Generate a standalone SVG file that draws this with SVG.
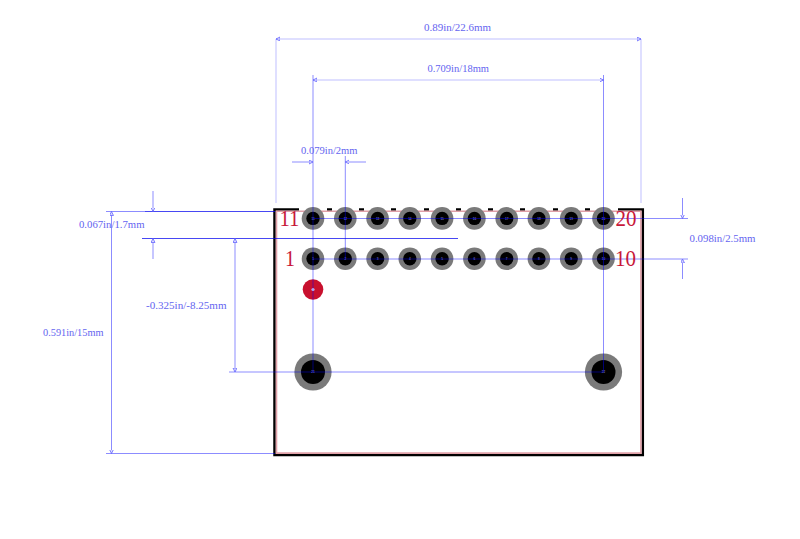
<svg xmlns="http://www.w3.org/2000/svg" width="800" height="539" viewBox="0 0 800 539">
<style>
.bg{fill:#fff}
.ol{stroke:#000;stroke-width:2.5;fill:none}
.pk{stroke:#e0a0a8;stroke-width:1.6;fill:none}
.o{fill:#7a7a7a}
.i{fill:#000}
.d{stroke:#0000ff;stroke-opacity:.45;stroke-width:1;fill:none}
.s{stroke:#0000ee;stroke-opacity:.72;stroke-width:1;fill:none}
.l{stroke:#0000ff;stroke-opacity:.25;stroke-width:1;fill:none}
.dt{font-family:"Liberation Serif",serif;font-size:10px;fill:#6464f0}
.pn{font-family:"Liberation Serif",serif;font-size:23px;fill:#c8183a}
.pt{font-family:"Liberation Sans",sans-serif;font-size:3px;fill:#a0a0ff;text-anchor:middle}
.red{fill:#c8102e}
</style>
<defs>
<marker id="a" markerWidth="5" markerHeight="5" refX="4" refY="2" orient="auto-start-reverse" markerUnits="userSpaceOnUse"><path d="M0 0L4 2L0 4Z" fill="#d8d8ff" stroke="#6a6aff" stroke-width="0.8"/></marker>
</defs>
<rect class="bg" width="800" height="539"/>
<g id="outline">
<path class="ol" d="M299 209.500H274.500V455H642.800V209.500H618M327 209.500H332M359 209.500H364M391 209.500H396M424 209.500H429M456 209.500H461M488 209.500H493M520 209.500H525M553 209.500H558M585 209.500H590"/>
<path class="pk" d="M276.500 211.300H640.900V453.100H276.500Z"/>
</g>
<g id="pads">
<g id="pad11"><circle class="o" cx="313" cy="218.400" r="11.300"/><circle class="i" cx="313" cy="218.400" r="6.700"/><text class="pt" x="313" y="219.500">11</text></g>
<g id="pad12"><circle class="o" cx="345.300" cy="218.400" r="11.300"/><circle class="i" cx="345.300" cy="218.400" r="6.700"/><text class="pt" x="345.300" y="219.500">12</text></g>
<g id="pad13"><circle class="o" cx="377.600" cy="218.400" r="11.300"/><circle class="i" cx="377.600" cy="218.400" r="6.700"/><text class="pt" x="377.600" y="219.500">13</text></g>
<g id="pad14"><circle class="o" cx="409.800" cy="218.400" r="11.300"/><circle class="i" cx="409.800" cy="218.400" r="6.700"/><text class="pt" x="409.800" y="219.500">14</text></g>
<g id="pad15"><circle class="o" cx="442.100" cy="218.400" r="11.300"/><circle class="i" cx="442.100" cy="218.400" r="6.700"/><text class="pt" x="442.100" y="219.500">15</text></g>
<g id="pad16"><circle class="o" cx="474.400" cy="218.400" r="11.300"/><circle class="i" cx="474.400" cy="218.400" r="6.700"/><text class="pt" x="474.400" y="219.500">16</text></g>
<g id="pad17"><circle class="o" cx="506.700" cy="218.400" r="11.300"/><circle class="i" cx="506.700" cy="218.400" r="6.700"/><text class="pt" x="506.700" y="219.500">17</text></g>
<g id="pad18"><circle class="o" cx="538.900" cy="218.400" r="11.300"/><circle class="i" cx="538.900" cy="218.400" r="6.700"/><text class="pt" x="538.900" y="219.500">18</text></g>
<g id="pad19"><circle class="o" cx="571.200" cy="218.400" r="11.300"/><circle class="i" cx="571.200" cy="218.400" r="6.700"/><text class="pt" x="571.200" y="219.500">19</text></g>
<g id="pad20"><circle class="o" cx="603.500" cy="218.400" r="11.300"/><circle class="i" cx="603.500" cy="218.400" r="6.700"/><text class="pt" x="603.500" y="219.500">20</text></g>
<g id="pad1"><circle class="o" cx="313" cy="258.800" r="11.300"/><circle class="i" cx="313" cy="258.800" r="6.700"/><text class="pt" x="313" y="260">1</text></g>
<g id="pad2"><circle class="o" cx="345.300" cy="258.800" r="11.300"/><circle class="i" cx="345.300" cy="258.800" r="6.700"/><text class="pt" x="345.300" y="260">2</text></g>
<g id="pad3"><circle class="o" cx="377.600" cy="258.800" r="11.300"/><circle class="i" cx="377.600" cy="258.800" r="6.700"/><text class="pt" x="377.600" y="260">3</text></g>
<g id="pad4"><circle class="o" cx="409.800" cy="258.800" r="11.300"/><circle class="i" cx="409.800" cy="258.800" r="6.700"/><text class="pt" x="409.800" y="260">4</text></g>
<g id="pad5"><circle class="o" cx="442.100" cy="258.800" r="11.300"/><circle class="i" cx="442.100" cy="258.800" r="6.700"/><text class="pt" x="442.100" y="260">5</text></g>
<g id="pad6"><circle class="o" cx="474.400" cy="258.800" r="11.300"/><circle class="i" cx="474.400" cy="258.800" r="6.700"/><text class="pt" x="474.400" y="260">6</text></g>
<g id="pad7"><circle class="o" cx="506.700" cy="258.800" r="11.300"/><circle class="i" cx="506.700" cy="258.800" r="6.700"/><text class="pt" x="506.700" y="260">7</text></g>
<g id="pad8"><circle class="o" cx="538.900" cy="258.800" r="11.300"/><circle class="i" cx="538.900" cy="258.800" r="6.700"/><text class="pt" x="538.900" y="260">8</text></g>
<g id="pad9"><circle class="o" cx="571.200" cy="258.800" r="11.300"/><circle class="i" cx="571.200" cy="258.800" r="6.700"/><text class="pt" x="571.200" y="260">9</text></g>
<g id="pad10"><circle class="o" cx="603.500" cy="258.800" r="11.300"/><circle class="i" cx="603.500" cy="258.800" r="6.700"/><text class="pt" x="603.500" y="260">10</text></g>
<g id="pad21"><circle class="o" cx="313" cy="372" r="18.600"/><circle class="i" cx="313" cy="372" r="12"/><text class="pt" x="313" y="373">21</text></g>
<g id="pad22"><circle class="o" cx="603.500" cy="372" r="18.600"/><circle class="i" cx="603.500" cy="372" r="12"/><text class="pt" x="603.500" y="373">22</text></g>
<g id="pin1"><circle class="red" cx="313" cy="289.500" r="10.300"/><circle cx="313" cy="289.500" r="1.500" fill="#d8d8ff"/></g>
</g>
<g id="connectors">
<path class="l" d="M276 39V203M641 39V203M276 39H641M313 80H603.500"/>
<path class="d" d="M313 75V372M603.500 75V372M345.300 156V259"/>
<path class="d" d="M313 218.500H688M313 259H688M229 372H603.500M106 453.500H275M106 211.500H145"/>
<path class="s" d="M145 211.500H275M142 238.500H458"/>
<path class="d" d="M292 162H313" marker-end="url(#a)"/>
<path class="d" d="M366 162H345.300" marker-end="url(#a)"/>
<path class="d" d="M280 39H276" marker-end="url(#a)"/>
<path class="d" d="M637 39H641" marker-end="url(#a)"/>
<path class="d" d="M317 80H313" marker-end="url(#a)"/>
<path class="d" d="M600 80H603.500" marker-end="url(#a)"/>
<path class="d" d="M153 191V211.500" marker-end="url(#a)"/>
<path class="d" d="M153 259V238.500" marker-end="url(#a)"/>
<path class="d" d="M682.500 198V218.500" marker-end="url(#a)"/>
<path class="d" d="M682.500 279V259" marker-end="url(#a)"/>
<path class="d" d="M235 238.500V372" marker-start="url(#a)" marker-end="url(#a)"/>
<path class="d" d="M111.500 211.500V453.500" marker-start="url(#a)" marker-end="url(#a)"/>
</g>
<g id="labels">
<text class="dt" x="424" y="31" textLength="67" lengthAdjust="spacingAndGlyphs">0.89in/22.6mm</text>
<text class="dt" x="427.500" y="72" textLength="61.500" lengthAdjust="spacingAndGlyphs">0.709in/18mm</text>
<text class="dt" x="301" y="154" textLength="56.500" lengthAdjust="spacingAndGlyphs">0.079in/2mm</text>
<text class="dt" x="79" y="228" textLength="65.500" lengthAdjust="spacingAndGlyphs">0.067in/1.7mm</text>
<text class="dt" x="689.500" y="242" textLength="66" lengthAdjust="spacingAndGlyphs">0.098in/2.5mm</text>
<text class="dt" x="146" y="309" textLength="80.500" lengthAdjust="spacingAndGlyphs">-0.325in/-8.25mm</text>
<text class="dt" x="43" y="336" textLength="60.500" lengthAdjust="spacingAndGlyphs">0.591in/15mm</text>
<text class="pn" x="279.500" y="226" textLength="20" lengthAdjust="spacingAndGlyphs">11</text>
<text class="pn" x="285" y="266" textLength="10" lengthAdjust="spacingAndGlyphs">1</text>
<text class="pn" x="615.500" y="226" textLength="21" lengthAdjust="spacingAndGlyphs">20</text>
<text class="pn" x="615" y="266" textLength="21" lengthAdjust="spacingAndGlyphs">10</text>
</g>
</svg>
